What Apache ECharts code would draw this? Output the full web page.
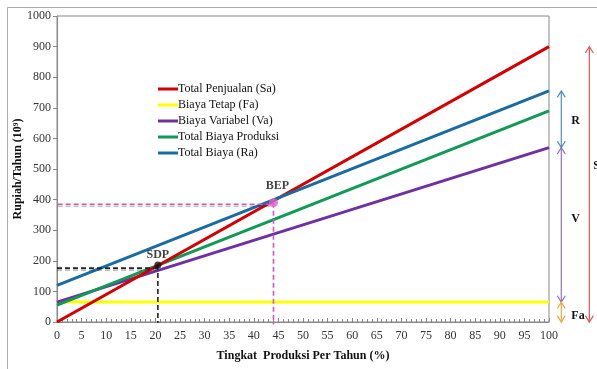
<!DOCTYPE html>
<html>
<head>
<meta charset="utf-8">
<script src="https://cdn.jsdelivr.net/npm/echarts@6/dist/echarts.min.js"></script>
<style>
  html, body { margin: 0; padding: 0; background: #fff; }
  #chart { width: 597px; height: 369px; }
</style>
</head>
<body>
<div id="chart"></div>
<script>
// data (x = % produksi, y = rupiah 10^9)
var xEnds = [0, 100];
var totalPenjualan = [0, 900];
var biayaTetap = [65, 65];
var biayaVariabel = [65, 570];
var totalBiayaProduksi = [55, 690];
var totalBiaya = [120, 755];

var bepPoint = [44, 390];
var bepLevel = 385;
var sdpPoint = [20.5, 186];
var sdpLevel = 176;

var xTicks = [0, 5, 10, 15, 20, 25, 30, 35, 40, 45, 50, 55, 60, 65, 70, 75, 80, 85, 90, 95, 100];
var yTicks = [0, 100, 200, 300, 400, 500, 600, 700, 800, 900, 1000];

var FONT = '"Liberation Serif", "Times New Roman", serif';

function pairs(ys) {
    return xEnds.map(function (x, i) { return [x, ys[i]]; });
}

// right side brackets: [x, top, bottom]
var brackets = [
    { value: [102.5, totalBiaya[1], biayaVariabel[1]], name: 'R', color: '#4f8fbf', dx: 10, dy: 2 },
    { value: [102.5, biayaVariabel[1], biayaTetap[1]], name: 'V', color: '#8f6fc0', dx: 10, dy: -6 },
    { value: [102.5, biayaTetap[1], 0], name: 'Fa', color: '#eea63a', dx: 10, dy: 4 },
    { value: [108.2, totalPenjualan[1], 0], name: 'S', color: '#e05858', dx: 4, dy: -18 }
];

function renderBracket(params, api) {
    var b = brackets[params.dataIndex];
    var p1 = api.coord([api.value(0), api.value(1)]);
    var p2 = api.coord([api.value(0), api.value(2)]);
    var h = 4, w = 4;
    var st = { stroke: b.color, lineWidth: 1.2, fill: null };
    return {
        type: 'group',
        children: [
            { type: 'line', shape: { x1: p1[0], y1: p1[1], x2: p2[0], y2: p2[1] }, style: st },
            { type: 'polyline', shape: { points: [[p1[0] - w, p1[1] + h * 1.6], [p1[0], p1[1]], [p1[0] + w, p1[1] + h * 1.6]] }, style: st },
            { type: 'polyline', shape: { points: [[p2[0] - w, p2[1] - h * 1.6], [p2[0], p2[1]], [p2[0] + w, p2[1] - h * 1.6]] }, style: st },
            {
                type: 'text',
                x: p1[0] + b.dx,
                y: (p1[1] + p2[1]) / 2 + b.dy,
                style: {
                    text: b.name, fill: '#111', font: 'bold 12px ' + FONT,
                    verticalAlign: 'middle', align: 'left'
                }
            }
        ]
    };
}

var chart = echarts.init(document.getElementById('chart'));

var option = {
    animation: false,
    backgroundColor: '#fff',
    graphic: [{
        type: 'polyline',
        shape: { points: [[7.5, 369], [7.5, 7.5], [597, 7.5]] },
        style: { stroke: '#aaa', lineWidth: 1, fill: null }
    }],
    grid: {
        left: 57, right: 48, top: 16, bottom: 47,
        outerBoundsMode: 'none',
        containLabel: false,
        show: true, borderColor: '#888', borderWidth: 1
    },
    legend: {
        orient: 'vertical',
        left: 153,
        top: 77,
        itemGap: 2,
        itemWidth: 20,
        itemHeight: 3,
        icon: 'rect',
        textStyle: { fontFamily: FONT, fontSize: 12, color: '#111', lineHeight: 14, padding: [0, 0, 0, -5] },
        data: ['Total Penjualan (Sa)', 'Biaya Tetap (Fa)', 'Biaya Variabel (Va)', 'Total Biaya Produksi', 'Total Biaya (Ra)']
    },
    xAxis: {
        type: 'value',
        min: xTicks[0],
        max: xTicks[xTicks.length - 1],
        interval: 5,
        name: 'Tingkat  Produksi Per Tahun (%)',
        nameLocation: 'middle',
        nameGap: 28,
        nameMoveOverlap: false,
        nameTextStyle: { fontFamily: FONT, fontSize: 12, fontWeight: 'bold', color: '#111' },
        axisLine: { lineStyle: { color: '#888' } },
        axisTick: { inside: true, length: 4, lineStyle: { color: '#888' } },
        minorTick: { show: true, splitNumber: 5, length: 3, lineStyle: { color: '#888' } },
        axisLabel: { fontFamily: FONT, fontSize: 12, color: '#333', margin: 8 },
        splitLine: { show: false }
    },
    yAxis: {
        type: 'value',
        min: yTicks[0],
        max: yTicks[yTicks.length - 1],
        interval: 100,
        name: 'Rupiah/Tahun (10⁹)',
        nameLocation: 'middle',
        nameGap: 33,
        nameMoveOverlap: false,
        nameRotate: 90,
        nameTextStyle: { fontFamily: FONT, fontSize: 12, fontWeight: 'bold', color: '#111' },
        axisLine: { show: true, lineStyle: { color: '#888' } },
        axisTick: { show: true, length: 4, lineStyle: { color: '#888' } },
        axisLabel: { fontFamily: FONT, fontSize: 12, color: '#333', margin: 6, formatter: function (v) { return String(v); } },
        splitLine: { show: false }
    },
    series: [
        {
            name: 'Biaya Tetap (Fa)', type: 'line', data: pairs(biayaTetap), symbol: 'none',
            lineStyle: { color: '#ffff00', width: 3 }, itemStyle: { color: '#ffff00' }, z: 2
        },
        {
            name: 'Biaya Variabel (Va)', type: 'line', data: pairs(biayaVariabel), symbol: 'none',
            lineStyle: { color: '#7030a0', width: 3 }, itemStyle: { color: '#7030a0' }, z: 2
        },
        {
            name: 'Total Biaya Produksi', type: 'line', data: pairs(totalBiayaProduksi), symbol: 'none',
            lineStyle: { color: '#0f9a55', width: 3 }, itemStyle: { color: '#0f9a55' }, z: 3
        },
        {
            name: 'Total Penjualan (Sa)', type: 'line', data: pairs(totalPenjualan), symbol: 'none',
            lineStyle: { color: '#d40000', width: 3 }, itemStyle: { color: '#d40000' }, z: 3
        },
        {
            name: 'Total Biaya (Ra)', type: 'line', data: pairs(totalBiaya), symbol: 'none',
            lineStyle: { color: '#1a6ca0', width: 3 }, itemStyle: { color: '#1a6ca0' }, z: 4
        },
        // BEP guides
        {
            type: 'line', symbol: 'none', clip: false, silent: true, z: 5,
            data: [[-1.5, bepLevel], [bepPoint[0], bepLevel]],
            lineStyle: { color: '#d454c8', width: 1.6, type: [5, 3], shadowColor: 'rgba(0,0,0,0.3)', shadowOffsetY: 2, shadowBlur: 1 }
        },
        {
            type: 'line', symbol: 'none', clip: false, silent: true, z: 5,
            data: [[bepPoint[0], bepPoint[1]], [bepPoint[0], -8]],
            lineStyle: { color: '#d454c8', width: 1.6, type: [5, 3] }
        },
        // SDP guides
        {
            type: 'line', symbol: 'none', clip: false, silent: true, z: 5,
            data: [[0, sdpLevel], [sdpPoint[0], sdpLevel]],
            lineStyle: { color: '#222', width: 1.6, type: [5, 3], shadowColor: 'rgba(0,0,0,0.3)', shadowOffsetY: 2, shadowBlur: 1 }
        },
        {
            type: 'line', symbol: 'none', clip: false, silent: true, z: 5,
            data: [[sdpPoint[0], sdpPoint[1]], [sdpPoint[0], -3]],
            lineStyle: { color: '#222', width: 1.6, type: [5, 3] }
        },
        {
            type: 'scatter', silent: true, z: 6,
            data: [
                { value: bepPoint, name: 'BEP', itemStyle: { color: '#e060d0' }, symbolSize: 9, label: { offset: [4, 0] } },
                { value: sdpPoint, name: 'SDP', itemStyle: { color: '#111' }, symbolSize: 7, label: { distance: 1 } }
            ],
            label: {
                show: true, position: 'top', distance: 6,
                formatter: '{b}',
                fontFamily: FONT, fontSize: 12, fontWeight: 'bold', color: '#111'
            }
        },
        {
            type: 'custom', silent: true, clip: false, z: 6,
            renderItem: renderBracket,
            data: brackets.map(function (b) { return { value: b.value, name: b.name }; })
        }
    ]
};

chart.setOption(option);
</script>
</body>
</html>
